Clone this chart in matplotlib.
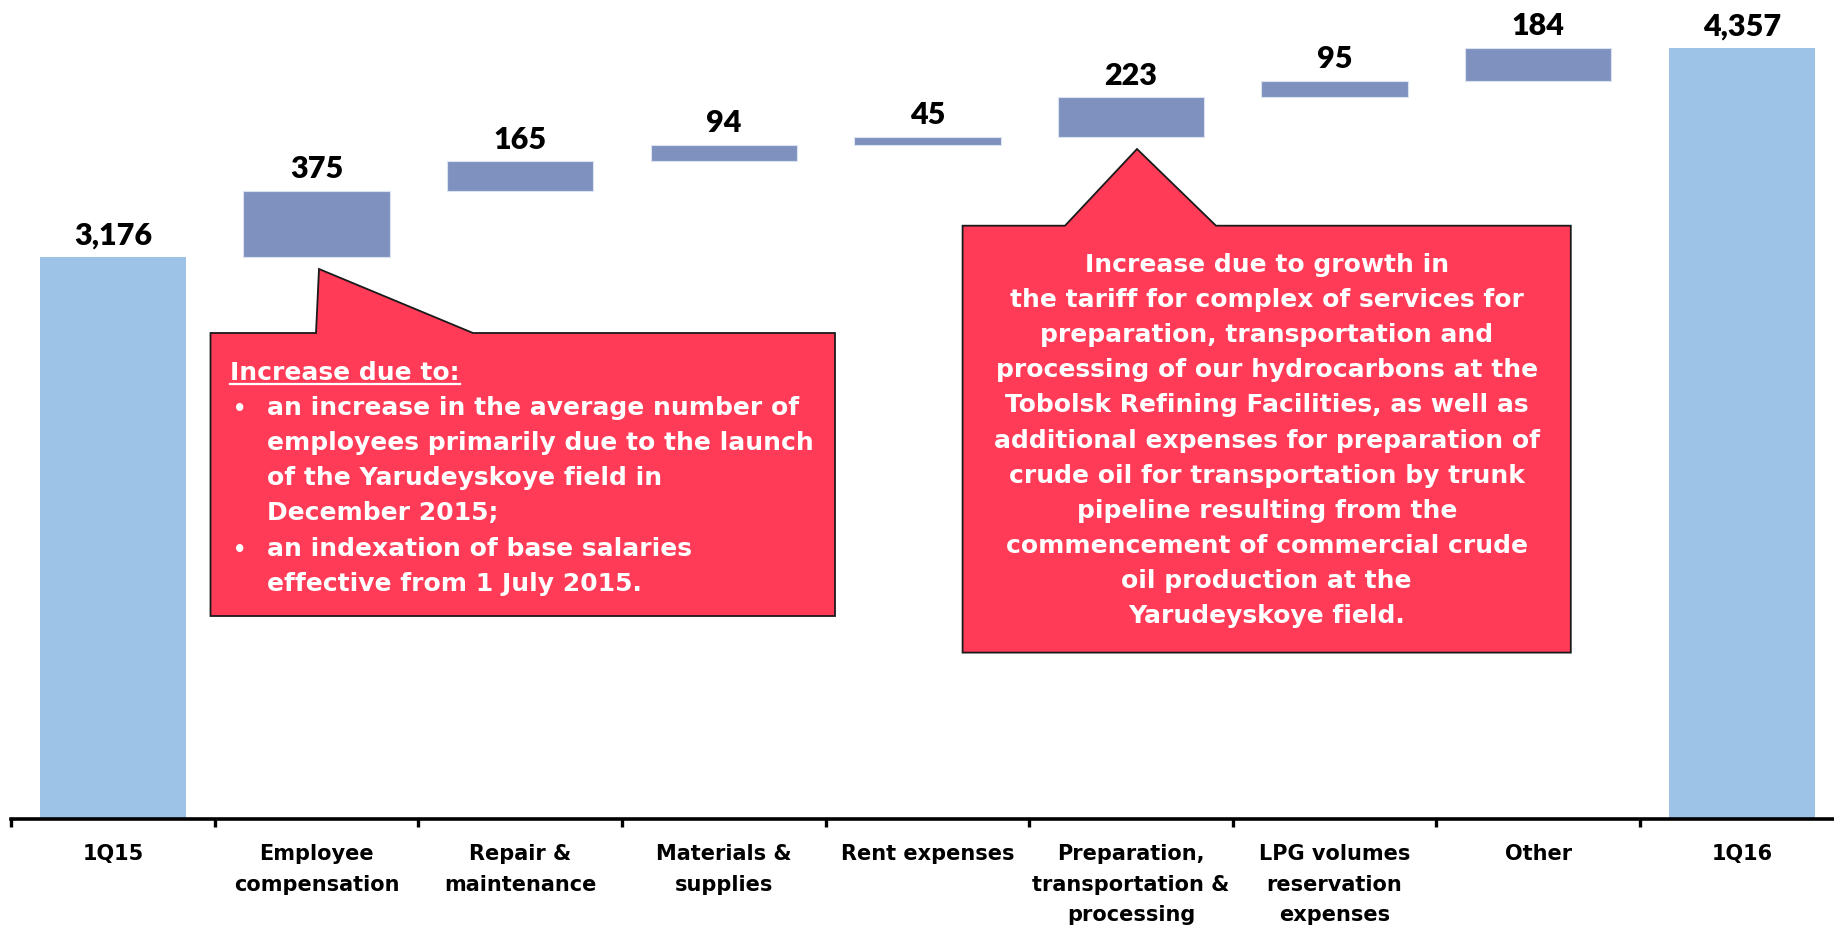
import numpy as np
import matplotlib
matplotlib.use('Agg')
import matplotlib.pyplot as plt
from matplotlib.patches import Polygon
from matplotlib.lines import Line2D
from matplotlib import font_manager as fm

# ---------------- data ----------------
categories = ['1Q15', 'Employee\ncompensation', 'Repair &\nmaintenance',
              'Materials &\nsupplies', 'Rent expenses',
              'Preparation,\ntransportation &\nprocessing',
              'LPG volumes\nreservation\nexpenses', 'Other', '1Q16']
start_total = 3176
changes = [375, 165, 94, 45, 223, 95, 184]
end_total = 4357
value_labels = ['3,176', '375', '165', '94', '45', '223', '95', '184', '4,357']

left_note_title = 'Increase due to:'
left_note_bullets = [
    ['an increase in the average number of',
     'employees primarily due to the launch',
     'of the Yarudeyskoye field in',
     'December 2015;'],
    ['an indexation of base salaries',
     'effective from 1 July 2015.'],
]
right_note_lines = [
    'Increase due to growth in',
    'the tariff for complex of services for',
    'preparation, transportation and',
    'processing of our hydrocarbons at the',
    'Tobolsk Refining Facilities, as well as',
    'additional expenses for preparation of',
    'crude oil for transportation by trunk',
    'pipeline resulting from the',
    'commencement of commercial crude',
    'oil production at the',
    'Yarudeyskoye field.',
]

# ---------------- style ----------------
TOTAL_COLOR = '#9DC3E6'
CHANGE_COLOR = '#7F92BF'
NOTE_COLOR = '#FF3B57'


def pick(fams):
    for f in fams:
        try:
            fm.findfont(fm.FontProperties(family=f, weight='bold'),
                        fallback_to_default=False)
            return f
        except Exception:
            pass
    return 'DejaVu Sans'


VALUE_FONT = pick(['Liberation Sans Narrow', 'Lato', 'DejaVu Sans'])
VALUE_SIZE = 26 if VALUE_FONT == 'Liberation Sans Narrow' else 22
VALUE_WEIGHT = 'bold' if VALUE_FONT == 'Liberation Sans Narrow' else 'heavy'
TEXT_FONT = 'DejaVu Sans'

W, H = 1834, 926
fig = plt.figure(figsize=(W / 100, H / 100), dpi=100)

px_per_unit = 0.17697
base_px = 819
ymax = 4600
ax = fig.add_axes([11.2 / W, (H - base_px) / H, 1832.4 / W, ymax * px_per_unit / H])

x = np.arange(len(categories))
running = start_total + np.concatenate([[0], np.cumsum(changes)[:-1]])
bottoms = np.concatenate([[0], running, [0]])
heights = np.concatenate([[start_total], changes, [end_total]])
colors = [TOTAL_COLOR] + [CHANGE_COLOR] * len(changes) + [TOTAL_COLOR]
edges = ['none'] + ['#DCE3F0'] * len(changes) + ['none']

ax.bar(x, heights, bottom=bottoms, width=0.72, color=colors,
       edgecolor=edges, linewidth=0.8, zorder=2)

for xi, b, h, lab in zip(x, bottoms, heights, value_labels):
    ax.annotate(lab, (xi, b + h), xytext=(0, 9), textcoords='offset points',
                ha='center', va='baseline', fontsize=VALUE_SIZE,
                fontweight=VALUE_WEIGHT, family=VALUE_FONT, color='black')

ax.set_xlim(-0.5, len(categories) - 0.5)
ax.set_ylim(0, ymax)
ax.set_yticks([])
for s in ['top', 'right', 'left']:
    ax.spines[s].set_visible(False)
ax.spines['bottom'].set_linewidth(2.6)
ax.spines['bottom'].set_color('black')

ax.set_xticks(x)
ax.set_xticklabels(categories, fontsize=15, fontweight='bold',
                   family=TEXT_FONT, linespacing=1.66)
ax.tick_params(axis='x', which='major', length=0, pad=18)
ax.set_xticks(np.arange(-0.5, len(categories) - 1, 1), minor=True)
ax.tick_params(axis='x', which='minor', length=6, width=2.4,
               direction='out', color='black')
ax.patch.set_alpha(0)


def P(px, py):
    return (px / W, 1 - py / H)


# ---------------- left callout ----------------
lb = dict(x0=210.5, x1=835, y0=333, y1=616)
left_poly = [P(lb['x0'], lb['y0']), P(316, lb['y0']), P(319, 269), P(473, lb['y0']),
             P(lb['x1'], lb['y0']), P(lb['x1'], lb['y1']), P(lb['x0'], lb['y1'])]
fig.add_artist(Polygon(left_poly, closed=True, facecolor=NOTE_COLOR,
                       edgecolor='#1a1a1a', linewidth=1.3,
                       transform=fig.transFigure, zorder=5))

NOTE_SIZE = 18
pitch = 35.1
y_base = 380
title = fig.text(*P(230, y_base), left_note_title, fontsize=NOTE_SIZE,
                 fontweight='bold', family=TEXT_FONT, color='white',
                 ha='left', va='baseline', zorder=6)
line_i = 1
for bullet in left_note_bullets:
    for j, ln in enumerate(bullet):
        yy = y_base + pitch * line_i
        if j == 0:
            fig.text(*P(233, yy), '\u2022', fontsize=NOTE_SIZE - 3,
                     fontweight='bold', family=TEXT_FONT, color='white',
                     ha='left', va='baseline', zorder=6)
        fig.text(*P(267, yy), ln, fontsize=NOTE_SIZE, fontweight='bold',
                 family=TEXT_FONT, color='white', ha='left', va='baseline',
                 zorder=6)
        line_i += 1

# underline of the title
fig.canvas.draw()
bb = title.get_window_extent(fig.canvas.get_renderer())
uy = 1 - (y_base + 4) / H
fig.add_artist(Line2D([bb.x0 / W, bb.x1 / W], [uy, uy], color='white',
                      linewidth=1.6, transform=fig.transFigure, zorder=6))

# ---------------- right callout ----------------
rb = dict(x0=962.6, x1=1570.8, y0=225.7, y1=652.6)
right_poly = [P(rb['x0'], rb['y0']), P(1065, rb['y0']), P(1137, 149), P(1216, rb['y0']),
              P(rb['x1'], rb['y0']), P(rb['x1'], rb['y1']), P(rb['x0'], rb['y1'])]
fig.add_artist(Polygon(right_poly, closed=True, facecolor=NOTE_COLOR,
                       edgecolor='#1a1a1a', linewidth=1.3,
                       transform=fig.transFigure, zorder=5))
cx = (rb['x0'] + rb['x1']) / 2
for i, ln in enumerate(right_note_lines):
    fig.text(*P(cx, 272 + pitch * i), ln, fontsize=NOTE_SIZE, fontweight='bold',
             family=TEXT_FONT, color='white', ha='center', va='baseline',
             zorder=6)

fig.savefig('out.png', dpi=100)
